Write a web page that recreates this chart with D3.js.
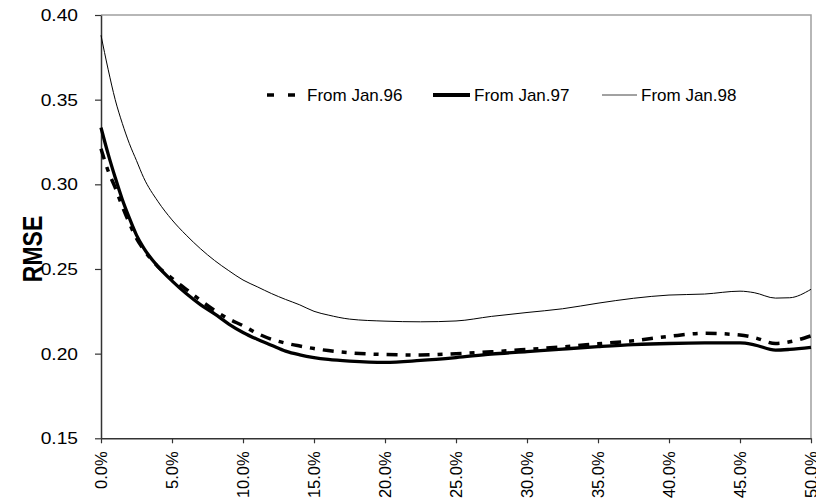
<!DOCTYPE html>
<html>
<head>
<meta charset="utf-8">
<style>
  body { margin: 0; background: #fff; }
  svg { display: block; font-family: "Liberation Sans", Arial, sans-serif; }
</style>
<script src="https://cdn.jsdelivr.net/npm/d3@7"></script>
</head>
<body>
<div id="chart"></div>
<script>
// share of sample (%) on the x axis
const pct = [0, 0.5, 1, 1.5, 2, 2.5, 3, 4, 5, 6, 7, 8, 9, 10, 11, 12, 13, 14, 15, 16,
  17.5, 20, 22.5, 25, 27.5, 30, 32.5, 35, 37.5, 40, 42.5, 45, 46, 47.5, 48.5, 50]

const jan96 = [0.321, 0.308, 0.298, 0.287, 0.277, 0.268, 0.2615, 0.2515, 0.2445, 0.238,
  0.2315, 0.2255, 0.2205, 0.2165, 0.212, 0.2085, 0.2062, 0.2045, 0.203, 0.2018,
  0.2005, 0.1995, 0.1992, 0.2, 0.2011, 0.2025, 0.204, 0.2058, 0.2076, 0.2102,
  0.212, 0.211, 0.2095, 0.206, 0.207, 0.2105]

const jan97 = [0.3335, 0.318, 0.304, 0.291, 0.28, 0.27, 0.2625, 0.2515, 0.243, 0.2355,
  0.229, 0.2235, 0.2175, 0.2125, 0.2085, 0.205, 0.2015, 0.1993, 0.1977, 0.1966,
  0.1956, 0.1948, 0.196, 0.1977, 0.1997, 0.2012, 0.2027, 0.2041, 0.2053, 0.206,
  0.2063, 0.2063, 0.2052, 0.2021, 0.2025, 0.2037]

const jan98 = [0.388, 0.368, 0.35, 0.336, 0.324, 0.314, 0.304, 0.29, 0.279, 0.27,
  0.262, 0.255, 0.249, 0.2435, 0.2395, 0.2355, 0.232, 0.2288, 0.225, 0.2228,
  0.2204, 0.2192, 0.2188, 0.2193, 0.222, 0.2243, 0.2265, 0.2298, 0.2327, 0.2346,
  0.2352, 0.2369, 0.236, 0.2328, 0.233, 0.238]

const seriesNames = ['From Jan.96', 'From Jan.97', 'From Jan.98']
const xTicks = d3.range(0, 50.1, 5)
const yTicks = [0.15, 0.2, 0.25, 0.3, 0.35, 0.4]

const W = 816, H = 500
const mLeft = 101, mRight = 811, mTop = 15, mBottom = 438.3

let x = d3.scaleLinear().domain([0, 50]).range([mLeft, mRight])
let y = d3.scaleLinear().domain([0.15, 0.4]).range([mBottom, mTop])

let svg = d3.select('#chart').append('svg')
  .attr('width', W)
  .attr('height', H)

// plot area border (grey top and right)
svg.append('path')
  .attr('d', `M${mLeft},${mTop}H${mRight}V${mBottom}`)
  .attr('fill', 'none')
  .attr('stroke', '#a0a0a0')
  .attr('stroke-width', 1.5)

// x axis
let gx = svg.append('g')
  .attr('transform', `translate(0,${mBottom})`)
  .call(d3.axisBottom(x).tickValues(xTicks).tickSize(5).tickSizeOuter(0)
    .tickFormat(d => d.toFixed(1) + '%'))
gx.select('.domain').attr('stroke', '#333').attr('stroke-width', 1.5)
gx.selectAll('.tick line').attr('stroke', '#333').attr('stroke-width', 1.2)
gx.selectAll('.tick text')
  .attr('font-size', 16.5)
  .attr('fill', '#000')
  .attr('text-anchor', 'end')
  .attr('transform', 'translate(0,13) rotate(-90)')
  .attr('x', 0)
  .attr('y', 0)
  .attr('dy', '0.35em')

// y axis
let gy = svg.append('g')
  .attr('transform', `translate(${mLeft},0)`)
  .call(d3.axisLeft(y).tickValues(yTicks).tickSize(6).tickSizeOuter(0)
    .tickFormat(d3.format('.2f')))
gy.select('.domain').attr('stroke', '#333').attr('stroke-width', 1.5)
gy.selectAll('.tick line').attr('stroke', '#333').attr('stroke-width', 1.2)
gy.selectAll('.tick text')
  .attr('font-size', 16)
  .attr('fill', '#000')
  .attr('x', 0)
  .attr('dy', '0.35em')
  .attr('transform', 'translate(-23,0) scale(1.2,1)')

// y axis title
svg.append('text')
  .attr('transform', 'translate(32,249) rotate(-90) scale(1,1.2)')
  .attr('text-anchor', 'middle')
  .attr('dy', '0.35em')
  .attr('font-size', 23)
  .attr('font-weight', 'bold')
  .text('RMSE')

let line = d3.line()
  .x((d, i) => x(pct[i]))
  .y(d => y(d))
  .curve(d3.curveMonotoneX)

let styles = [
  { w: 3.5, dash: '11,8,5,8', lw: 3.5, ldash: '7,14' },
  { w: 3.3, dash: null, lw: 4, ldash: null },
  { w: 1, dash: null, lw: 1, ldash: null }
]

let series = [jan96, jan97, jan98]
svg.append('g')
  .selectAll('path')
  .data(series)
  .join('path')
  .attr('d', line)
  .attr('fill', 'none')
  .attr('stroke', '#000')
  .attr('stroke-width', (d, i) => styles[i].w)
  .attr('stroke-dasharray', (d, i) => styles[i].dash)
  .attr('stroke-linejoin', 'round')

// legend
let legendX = [[267, 295, 307], [433, 470, 474], [602, 637, 641]]
let lg = svg.append('g').selectAll('g')
  .data(seriesNames)
  .join('g')
lg.append('line')
  .attr('x1', (d, i) => legendX[i][0])
  .attr('x2', (d, i) => legendX[i][1])
  .attr('y1', 95)
  .attr('y2', 95)
  .attr('stroke', (d, i) => i == 2 ? '#444' : '#000')
  .attr('stroke-width', (d, i) => styles[i].lw)
  .attr('stroke-dasharray', (d, i) => styles[i].ldash)
lg.append('text')
  .attr('x', (d, i) => legendX[i][2])
  .attr('y', 95)
  .attr('dy', '0.35em')
  .attr('font-size', 17)
  .attr('fill', '#000')
  .text(d => d)
</script>
</body>
</html>
